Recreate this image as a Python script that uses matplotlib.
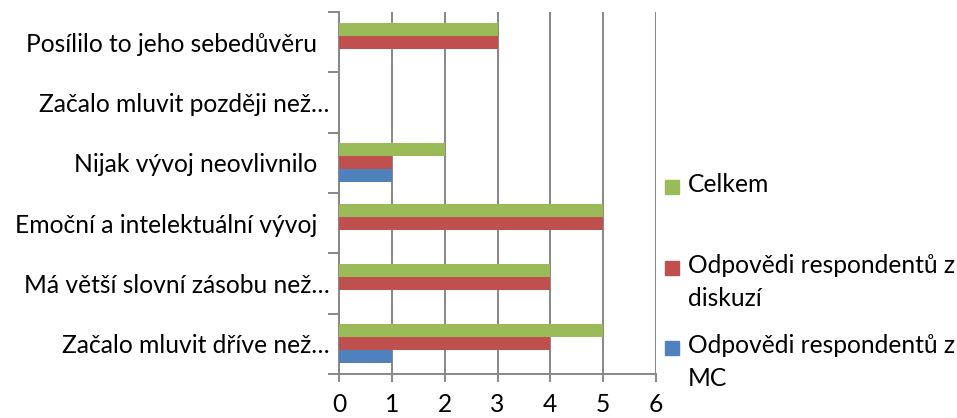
import matplotlib
matplotlib.use("Agg")
import matplotlib.pyplot as plt
from matplotlib.patches import Rectangle
import numpy as np

plt.rcParams['font.family'] = ['Lato', 'DejaVu Sans']

# categories from bottom to top
categories = [
    "Začalo mluvit dříve než…",
    "Má větší slovní zásobu než…",
    "Emoční a intelektuální vývoj  ",
    "Nijak vývoj neovlivnilo  ",
    "Začalo mluvit později než…",
    "Posílilo to jeho sebedůvěru  ",
]
mc = [1, 0, 0, 1, 0, 0]
diskuze = [4, 4, 5, 1, 0, 3]
celkem = [5, 4, 5, 2, 0, 3]
series_labels = ["Odpovědi respondentů z\nMC", "Odpovědi respondentů z\ndiskuzí", "Celkem"]
colors = ["#4F81BD", "#C0504D", "#9BBB59"]
xticks = [0, 1, 2, 3, 4, 5, 6]

FS = 17.7
W, H = 957, 418
fig = plt.figure(figsize=(W / 100, H / 100), dpi=100)
ax = fig.add_axes([339 / W, 1 - 374 / H, (656 - 339) / W, (374 - 12) / H])

y = np.arange(len(categories))
h = 0.215
ax.barh(y - h, mc, height=h, color=colors[0], zorder=3)
ax.barh(y, diskuze, height=h, color=colors[1], zorder=3)
ax.barh(y + h, celkem, height=h, color=colors[2], zorder=3)

grid_c = "#878787"
ax.set_xlim(0, 6)
ax.set_ylim(-0.5, len(categories) - 0.5)
ax.set_xticks(xticks)
ax.set_xticklabels([str(t) for t in xticks], fontsize=FS)
ax.xaxis.grid(True, color=grid_c, linewidth=1.4, zorder=0)
ax.set_yticks(y)
ax.set_yticklabels(categories, fontsize=FS)
ax.set_yticks(np.arange(-0.5, len(categories)), minor=True)
ax.tick_params(axis='y', which='major', length=0, pad=7)
ax.tick_params(axis='y', which='minor', length=8, color=grid_c, width=1.4)
ax.tick_params(axis='x', which='major', length=6, color=grid_c, width=1.4, pad=8)
for s in ['top', 'right']:
    ax.spines[s].set_visible(False)
for s in ['left', 'bottom']:
    ax.spines[s].set_color(grid_c)
    ax.spines[s].set_linewidth(1.4)

# legend drawn manually (Excel style)
leg = [(2, 187), (1, 268), (0, 348)]
for idx, yc in leg:
    fig.patches.append(Rectangle((665 / W, 1 - (yc + 7) / H), 14 / W, 14 / H,
                                 transform=fig.transFigure, color=colors[idx]))
    fig.text(688 / W, 1 - (yc - 14) / H, series_labels[idx], fontsize=FS,
             va='top', ha='left', linespacing=1.55)

fig.savefig("out.png", dpi=100)
